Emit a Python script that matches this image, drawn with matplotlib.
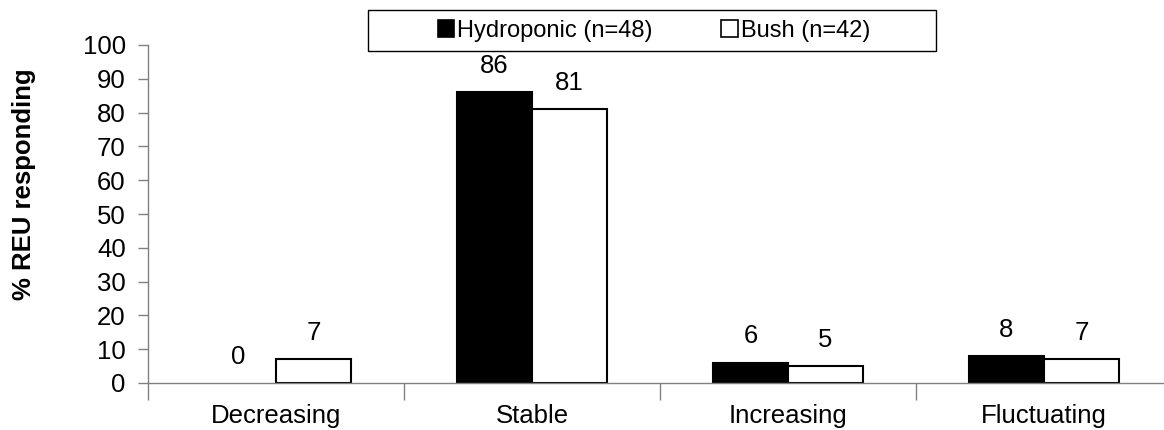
import matplotlib
matplotlib.use("Agg")
import matplotlib.pyplot as plt
import numpy as np
from matplotlib.patches import Patch, Rectangle

plt.rcParams["font.family"] = ["Liberation Sans", "DejaVu Sans"]

categories = ["Decreasing", "Stable", "Increasing", "Fluctuating"]
series_names = ["Hydroponic (n=48)", "Bush (n=42)"]
hydroponic = [0, 86, 6, 8]
bush = [7, 81, 5, 7]

W, H = 1164, 430
fig = plt.figure(figsize=(W / 100, H / 100), dpi=100)
# axes runs a little past the right edge, as in the original
ax = fig.add_axes([148 / W, (H - 383) / H, 1024 / W, 338 / H])

x = np.arange(len(categories))
bw = 0.293
gray = "#808080"
fs = 18.5

b1 = ax.bar(x - bw / 2, hydroponic, bw, color="black", edgecolor="black", linewidth=1.5)
b2 = ax.bar(x + bw / 2, bush, bw, color="white", edgecolor="black", linewidth=1.5)

for bars, vals in [(b1, hydroponic), (b2, bush)]:
    for rect, v in zip(bars, vals):
        if v == 0:
            rect.set_linewidth(0)  # no outline on empty bars
        ax.annotate(f"{v}", (rect.get_x() + rect.get_width() / 2, v),
                    xytext=(0, 19), textcoords="offset points",
                    ha="center", va="center", fontsize=fs)

ax.set_xlim(-0.5, len(categories) - 0.5)
ax.set_ylim(0, 100)
ax.set_yticks(range(0, 101, 10))
ax.set_xticks(x)
ax.set_xticklabels(categories, fontsize=fs)
ax.set_xticks(np.arange(-0.5, len(categories), 1.0), minor=True)
ax.tick_params(axis="x", which="major", length=0, pad=15)
ax.tick_params(axis="x", which="minor", length=12, color=gray, width=1)
ax.tick_params(axis="y", length=7, color=gray, width=1, labelsize=fs, pad=9)

for side in ["top", "right"]:
    ax.spines[side].set_visible(False)
for side in ["left", "bottom"]:
    ax.spines[side].set_color(gray)
    ax.spines[side].set_linewidth(1)

fig.text(24 / W, 1 - 184 / H, "% REU responding", rotation=90,
         ha="center", va="center", fontsize=fs, fontweight="bold")

# legend box
fig.patches.append(Rectangle((368 / W, 1 - 51 / H), 568 / W, 41 / H,
                             transform=fig.transFigure, facecolor="white",
                             edgecolor="black", linewidth=1))
handles = [Patch(facecolor="black", edgecolor="black", linewidth=1.2),
           Patch(facecolor="white", edgecolor="black", linewidth=1.2)]
fig.legend(handles, series_names, loc="center",
           bbox_to_anchor=(654 / W, 1 - 31 / H), ncol=2, frameon=False,
           fontsize=17, handlelength=0.7, handleheight=0.7,
           handletextpad=0.12, columnspacing=2.9)

fig.savefig("out.png", dpi=100)
